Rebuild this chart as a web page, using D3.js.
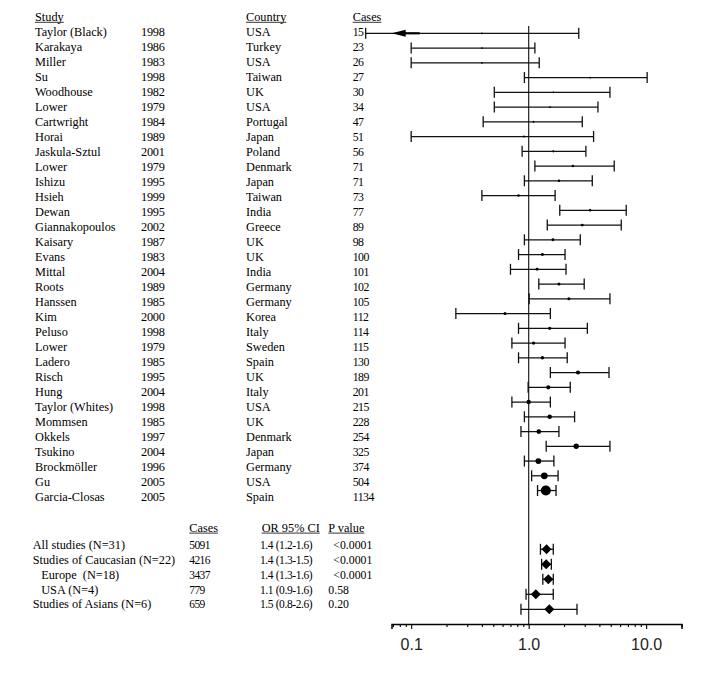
<!DOCTYPE html>
<html>
<head>
<meta charset="utf-8">
<script src="https://cdn.jsdelivr.net/npm/d3@7"></script>
<style>
  html, body { margin: 0; padding: 0; background: #fff; }
  svg { display: block; }
  text { font-family: "Liberation Serif", "Times New Roman", serif; font-size: 12.3px; fill: #000; white-space: pre; }
  .axlab { font-family: "Liberation Sans", Arial, sans-serif; font-size: 16px; fill: #222; }
</style>
</head>
<body>
<svg id="chart" width="715" height="683"></svg>
<script>
// ---------- data ----------
const studies = ["Taylor (Black)", "Karakaya", "Miller", "Su", "Woodhouse", "Lower", "Cartwright", "Horai",
  "Jaskula-Sztul", "Lower", "Ishizu", "Hsieh", "Dewan", "Giannakopoulos", "Kaisary", "Evans", "Mittal",
  "Roots", "Hanssen", "Kim", "Peluso", "Lower", "Ladero", "Risch", "Hung", "Taylor (Whites)", "Mommsen",
  "Okkels", "Tsukino", "Brockmöller", "Gu", "Garcia-Closas"];
const years = [1998, 1986, 1983, 1998, 1982, 1979, 1984, 1989, 2001, 1979, 1995, 1999, 1995, 2002, 1987,
  1983, 2004, 1989, 1985, 2000, 1998, 1979, 1985, 1995, 2004, 1998, 1985, 1997, 2004, 1996, 2005, 2005];
const countries = ["USA", "Turkey", "USA", "Taiwan", "UK", "USA", "Portugal", "Japan", "Poland", "Denmark",
  "Japan", "Taiwan", "India", "Greece", "UK", "UK", "India", "Germany", "Germany", "Korea", "Italy",
  "Sweden", "Spain", "UK", "Italy", "USA", "UK", "Denmark", "Japan", "Germany", "USA", "Spain"];
const cases = [15, 23, 26, 27, 30, 34, 47, 51, 56, 71, 71, 73, 77, 89, 98, 100, 101, 102, 105, 112, 114,
  115, 130, 189, 201, 215, 228, 254, 325, 374, 504, 1134];
const orVal = [0.40, 0.40, 0.40, 3.34, 1.62, 1.52, 1.10, 0.91, 1.62, 2.38, 1.81, 0.82, 3.34, 2.86, 1.61,
  1.31, 1.18, 1.81, 2.20, 0.63, 1.51, 1.10, 1.31, 2.63, 1.47, 1.00, 1.51, 1.22, 2.54, 1.21, 1.36, 1.40];
const ciLow = [0.041, 0.10, 0.10, 0.92, 0.51, 0.51, 0.41, 0.10, 0.88, 1.13, 0.92, 0.40, 1.84, 1.44, 0.92,
  0.82, 0.70, 1.22, 1.01, 0.24, 0.82, 0.72, 0.82, 1.53, 0.99, 0.72, 0.92, 0.86, 1.41, 0.92, 1.06, 1.19];
const ciHigh = [2.67, 1.13, 1.23, 10.2, 4.92, 3.89, 2.86, 3.57, 3.07, 5.35, 3.48, 1.68, 6.77, 6.14, 2.75,
  2.04, 2.08, 2.97, 4.92, 1.53, 3.16, 2.04, 2.13, 4.83, 2.26, 1.53, 2.46, 1.81, 4.92, 1.64, 1.78, 1.71];

const sumLabels = ["All studies (N=31)", "Studies of Caucasian (N=22)", "Europe  (N=18)", "USA (N=4)", "Studies of Asians (N=6)"];
const sumLevel = [0, 0, 1, 1, 0];
const sumCases = ["5091", "4216", "3437", "779", "659"];
const sumCIText = ["1.4 (1.2-1.6)", "1.4 (1.3-1.5)", "1.4 (1.3-1.6)", "1.1 (0.9-1.6)", "1.5 (0.8-2.6)"];
const sumP = ["<0.0001", "<0.0001", "<0.0001", "0.58", "0.20"];
const sumOR = [1.42, 1.41, 1.47, 1.15, 1.50];
const sumLow = [1.26, 1.29, 1.32, 0.95, 0.86];
const sumHigh = [1.62, 1.56, 1.62, 1.62, 2.58];

const majorTicks = [0.1, 1, 10];
const minorTicks = [0.07, 0.08, 0.09, 0.2, 0.3, 0.4, 0.5, 0.6, 0.7, 0.8, 0.9, 2, 3, 4, 5, 6, 7, 8, 9, 20];
const majorLabels = ["0.1", "1.0", "10.0"];

// ---------- scales ----------
const svg = d3.select("#chart");
const x = d3.scaleLog().domain([0.068, 20]).range([391.5, 681.5]);
const n = studies.length;
const textY = d3.scaleLinear().domain([0, n - 1]).range([36.3, 36.3 + 15.0 * (n - 1)]);
const markY = d3.scaleLinear().domain([0, n - 1]).range([33.3, 33.3 + 14.75 * (n - 1)]);
const sumTextY = d3.scaleLinear().domain([0, 4]).range([549, 549 + 14.85 * 4]);
const sumMarkY = d3.scaleLinear().domain([0, 4]).range([549.3, 549.3 + 15 * 4]);
const rScale = d3.scaleSqrt().domain([0, 1134]).range([0, 5]);
const axisY = 624;

// ---------- headers ----------
function header(txt, xx, yy) {
  const t = svg.append("text").attr("x", xx).attr("y", yy).text(txt);
  const w = t.node().getComputedTextLength();
  svg.append("line").attr("x1", xx).attr("x2", xx + w).attr("y1", yy + 1.6).attr("y2", yy + 1.6)
    .attr("stroke", "#000").attr("stroke-width", 0.8);
}
header("Study", 35, 20.7);
header("Country", 246, 20.7);
header("Cases", 352.7, 20.7);
header("Cases", 189.3, 531.5);
header("OR 95% CI", 261.7, 531.5);
header("P value", 328.3, 531.5);

// ---------- study table ----------
const rows = svg.append("g").selectAll("g").data(d3.range(n)).join("g");
rows.append("text").attr("x", 35).attr("y", i => textY(i)).text(i => studies[i]);
rows.append("text").attr("x", 164.5).attr("y", i => textY(i)).attr("text-anchor", "end")
  .style("letter-spacing", "-0.3px").text(i => years[i]);
rows.append("text").attr("x", 246).attr("y", i => textY(i)).text(i => countries[i]);
rows.append("text").attr("x", 352.7).attr("y", i => textY(i)).style("font-size", "11.8px")
  .style("letter-spacing", "-0.5px").text(i => cases[i]);

// ---------- summary table ----------
const srows = svg.append("g").selectAll("g").data(d3.range(sumLabels.length)).join("g");
srows.append("text").attr("x", i => 32.7 + sumLevel[i] * 8.5).attr("y", i => sumTextY(i)).text(i => sumLabels[i]);
srows.append("text").attr("x", 189.3).attr("y", i => sumTextY(i)).style("font-size", "11.5px")
  .style("letter-spacing", "-0.6px").text(i => sumCases[i]);
srows.append("text").attr("x", 260).attr("y", i => sumTextY(i)).style("font-size", "11.5px")
  .style("letter-spacing", "-0.4px").text(i => sumCIText[i]);
srows.append("text").attr("x", i => sumP[i].startsWith("<") ? 333.3 : 328.3).attr("y", i => sumTextY(i))
  .style("font-size", "11.8px").text(i => sumP[i]);

// ---------- reference line ----------
svg.append("line").attr("x1", x(1)).attr("x2", x(1)).attr("y1", 26).attr("y2", axisY)
  .attr("stroke", "#333").attr("stroke-width", 1.3);

// ---------- study CIs ----------
const capH = 5.5;
const marks = svg.append("g").selectAll("g").data(d3.range(n)).join("g");
marks.append("line").attr("x1", i => x(ciLow[i])).attr("x2", i => x(ciHigh[i]))
  .attr("y1", i => markY(i)).attr("y2", i => markY(i)).attr("stroke", "#111").attr("stroke-width", 1.3);
marks.append("line").attr("x1", i => x(ciLow[i])).attr("x2", i => x(ciLow[i]))
  .attr("y1", i => markY(i) - capH).attr("y2", i => markY(i) + capH).attr("stroke", "#111").attr("stroke-width", 1.3);
marks.append("line").attr("x1", i => x(ciHigh[i])).attr("x2", i => x(ciHigh[i]))
  .attr("y1", i => markY(i) - capH).attr("y2", i => markY(i) + capH).attr("stroke", "#111").attr("stroke-width", 1.3);
marks.append("circle").attr("cx", i => x(orVal[i])).attr("cy", i => markY(i))
  .attr("r", i => Math.max(0.9, rScale(cases[i]))).attr("fill", "#000");

// arrow on first row (CI extends beyond the axis)
{
  const y0 = markY(0), x0 = x(ciLow[0]);
  svg.append("line").attr("x1", x0 + 38).attr("x2", x0 + 54).attr("y1", y0).attr("y2", y0)
    .attr("stroke", "#000").attr("stroke-width", 2.2);
  svg.append("path").attr("d", `M${x0 + 26},${y0} L${x0 + 40},${y0 - 3.5} L${x0 + 40},${y0 + 3.5} Z`).attr("fill", "#000");
}

// ---------- summary diamonds ----------
const sm = svg.append("g").selectAll("g").data(d3.range(sumOR.length)).join("g");
sm.append("line").attr("x1", i => x(sumLow[i])).attr("x2", i => x(sumHigh[i]))
  .attr("y1", i => sumMarkY(i)).attr("y2", i => sumMarkY(i)).attr("stroke", "#111").attr("stroke-width", 1.3);
sm.append("line").attr("x1", i => x(sumLow[i])).attr("x2", i => x(sumLow[i]))
  .attr("y1", i => sumMarkY(i) - capH).attr("y2", i => sumMarkY(i) + capH).attr("stroke", "#111").attr("stroke-width", 1.3);
sm.append("line").attr("x1", i => x(sumHigh[i])).attr("x2", i => x(sumHigh[i]))
  .attr("y1", i => sumMarkY(i) - capH).attr("y2", i => sumMarkY(i) + capH).attr("stroke", "#111").attr("stroke-width", 1.3);
sm.append("path").attr("d", i => {
  const cx = x(sumOR[i]), cy = sumMarkY(i), h = 5;
  return `M${cx - h},${cy} L${cx},${cy - h} L${cx + h},${cy} L${cx},${cy + h} Z`;
}).attr("fill", "#000");

// ---------- axis ----------
const allTicks = majorTicks.concat(minorTicks);
const axis = d3.axisBottom(x).tickValues(allTicks).tickSizeOuter(0).tickSize(5)
  .tickFormat(d => { const k = majorTicks.indexOf(d); return k >= 0 ? majorLabels[k] : ""; });
const ag = svg.append("g").attr("transform", `translate(0,${axisY})`).call(axis);
ag.select(".domain").attr("stroke", "#000").attr("stroke-width", 1.5);
ag.selectAll(".tick line").attr("stroke", "#000").attr("stroke-width", 1.1)
  .attr("y2", d => majorTicks.indexOf(d) >= 0 ? 5 : 3);
ag.selectAll(".tick text").attr("class", "axlab").attr("y", 14.5).attr("dy", "0.71em")
  .style("font-family", "'Liberation Sans', Arial, sans-serif").style("font-size", "16px").attr("fill", "#222");
</script>
</body>
</html>
